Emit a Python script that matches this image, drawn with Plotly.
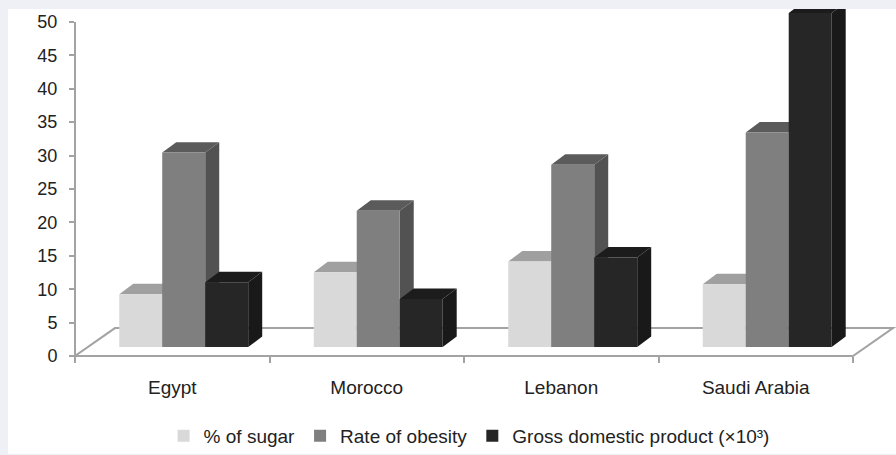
import plotly.graph_objects as go

# ---- data -------------------------------------------------------------
countries = ["Egypt", "Morocco", "Lebanon", "Saudi Arabia"]
sugar_pct = [7.9, 11.2, 12.8, 9.4]
obesity_rate = [29.1, 20.4, 27.3, 32.1]
gdp_thousands = [9.7, 7.2, 13.4, 50.0]
series_names = ["% of sugar", "Rate of obesity", "Gross domestic product (×10³)"]
y_ticks = list(range(0, 55, 5))

# ---- geometry of the pseudo-3D drawing ----------------------------------
W, H = 896, 455
PLOT_L, PLOT_R, PLOT_T, PLOT_B = 75, 896, 9, 357
PX_PER_CAT = 194.5
PX_PER_UNIT = 6.7
X_RANGE = [-0.5, -0.5 + (PLOT_R - PLOT_L) / PX_PER_CAT]
Y_RANGE = [0, (PLOT_B - PLOT_T) / PX_PER_UNIT]

BAR_W = 0.221                 # width of one column (category units)
GROUP_SHIFT = 0.059           # columns sit a little behind/right of the front edge
BASE = 9 / PX_PER_UNIT        # columns stand on the floor, slightly back
DX = 14 / PX_PER_CAT          # column depth, horizontal component
DY = 10.5 / PX_PER_UNIT       # column depth, vertical component
FLOOR_DX = 40 / PX_PER_CAT
FLOOR_DY = 28 / PX_PER_UNIT

front_colors = ["#d9d9d9", "#7f7f7f", "#262626"]
top_colors = ["#a0a0a0", "#5b5b5b", "#1c1c1c"]
side_colors = ["#b0b0b0", "#525252", "#191919"]
edge_color = "#a3a3a3"
text_color = "#222222"
FONT = "Liberation Sans, Arial, sans-serif"

series_values = [sugar_pct, obesity_rate, gdp_thousands]


def px_to_paper_x(px):
    return (px - PLOT_L) / (PLOT_R - PLOT_L)


def px_to_paper_y(py):
    return (PLOT_B - py) / (PLOT_B - PLOT_T)


def path(points):
    return "M" + " L".join(f"{x:.4f},{y:.4f}" for x, y in points) + " Z"


fig = go.Figure()

shapes = []
# white chart panel on the tinted page
shapes.append(dict(type="rect", xref="paper", yref="paper", layer="below",
                   x0=px_to_paper_x(8), x1=1.0, y0=px_to_paper_y(H), y1=1.0,
                   fillcolor="white", line=dict(width=0)))

# floor parallelogram (converted to paper space so its front edge is not clipped)
def floor_pt(x, v):
    return (px_to_paper_x(PLOT_L + (x - X_RANGE[0]) * PX_PER_CAT),
            px_to_paper_y(PLOT_B - v * PX_PER_UNIT))

floor = [floor_pt(-0.5, 0), floor_pt(3.5, 0),
         floor_pt(3.5 + FLOOR_DX, FLOOR_DY), floor_pt(-0.5 + FLOOR_DX, FLOOR_DY)]
shapes.append(dict(type="path", xref="paper", yref="paper", layer="below",
                   path=path(floor), fillcolor="white",
                   line=dict(color=edge_color, width=2)))

# value axis line from 0 to the top tick
shapes.append(dict(type="line", xref="paper", yref="paper", layer="below",
                   x0=0, x1=0, y0=px_to_paper_y(PLOT_B),
                   y1=px_to_paper_y(PLOT_B - y_ticks[-1] * PX_PER_UNIT),
                   line=dict(color=edge_color, width=2)))

# top and side faces of each column, left to right so nearer faces paint last
for ci in range(len(countries)):
    for si, values in enumerate(series_values):
        v = values[ci]
        xl = ci + GROUP_SHIFT - 1.5 * BAR_W + si * BAR_W
        xr = xl + BAR_W
        top = BASE + v
        side = [(xr, BASE), (xr, top), (xr + DX, top + DY), (xr + DX, BASE + DY)]
        lid = [(xl, top), (xr, top), (xr + DX, top + DY), (xl + DX, top + DY)]
        shapes.append(dict(type="path", xref="x", yref="y", layer="below",
                           path=path(side), fillcolor=side_colors[si],
                           line=dict(width=0)))
        shapes.append(dict(type="path", xref="x", yref="y", layer="below",
                           path=path(lid), fillcolor=top_colors[si],
                           line=dict(width=0)))

# front faces of the columns
for si, (name, values) in enumerate(zip(series_names, series_values)):
    fig.add_trace(go.Bar(
        name=name,
        x=list(range(len(countries))),
        y=values,
        base=BASE,
        width=BAR_W,
        offset=GROUP_SHIFT - 1.5 * BAR_W + si * BAR_W,
        marker=dict(color=front_colors[si], line=dict(width=0)),
        hovertemplate="%{customdata}: %{y}<extra>" + name + "</extra>",
        customdata=countries,
    ))

fig.update_layout(
    width=W, height=H,
    margin=dict(l=PLOT_L, r=W - PLOT_R, t=PLOT_T, b=H - PLOT_B),
    paper_bgcolor="#eef0f6",
    plot_bgcolor="white",
    barmode="overlay",
    shapes=shapes,
    font=dict(family=FONT, size=18, color=text_color),
    showlegend=True,
    legend=dict(orientation="h", x=0.48, xanchor="center",
                y=px_to_paper_y(437), yanchor="middle",
                font=dict(size=19, color=text_color),
                bgcolor="rgba(0,0,0,0)", itemwidth=30),
    xaxis=dict(
        range=X_RANGE, showgrid=False, zeroline=False, showline=False,
        tickmode="array", tickvals=list(range(len(countries))), ticktext=countries,
        ticks="", ticklabelstandoff=18,
        tickfont=dict(size=19, color=text_color),
        minor=dict(tickmode="array", tickvals=[i - 0.5 for i in range(len(countries) + 1)],
                   ticks="outside", ticklen=6, tickwidth=1.5, tickcolor=edge_color),
        fixedrange=True,
    ),
    yaxis=dict(
        range=Y_RANGE, showgrid=False, zeroline=False, showline=False,
        tickmode="array", tickvals=y_ticks,
        ticks="outside", ticklen=5, tickwidth=1.5, tickcolor=edge_color,
        ticklabelstandoff=8,
        tickfont=dict(size=18, color=text_color),
        fixedrange=True,
    ),
)

fig.write_html("out.html")
